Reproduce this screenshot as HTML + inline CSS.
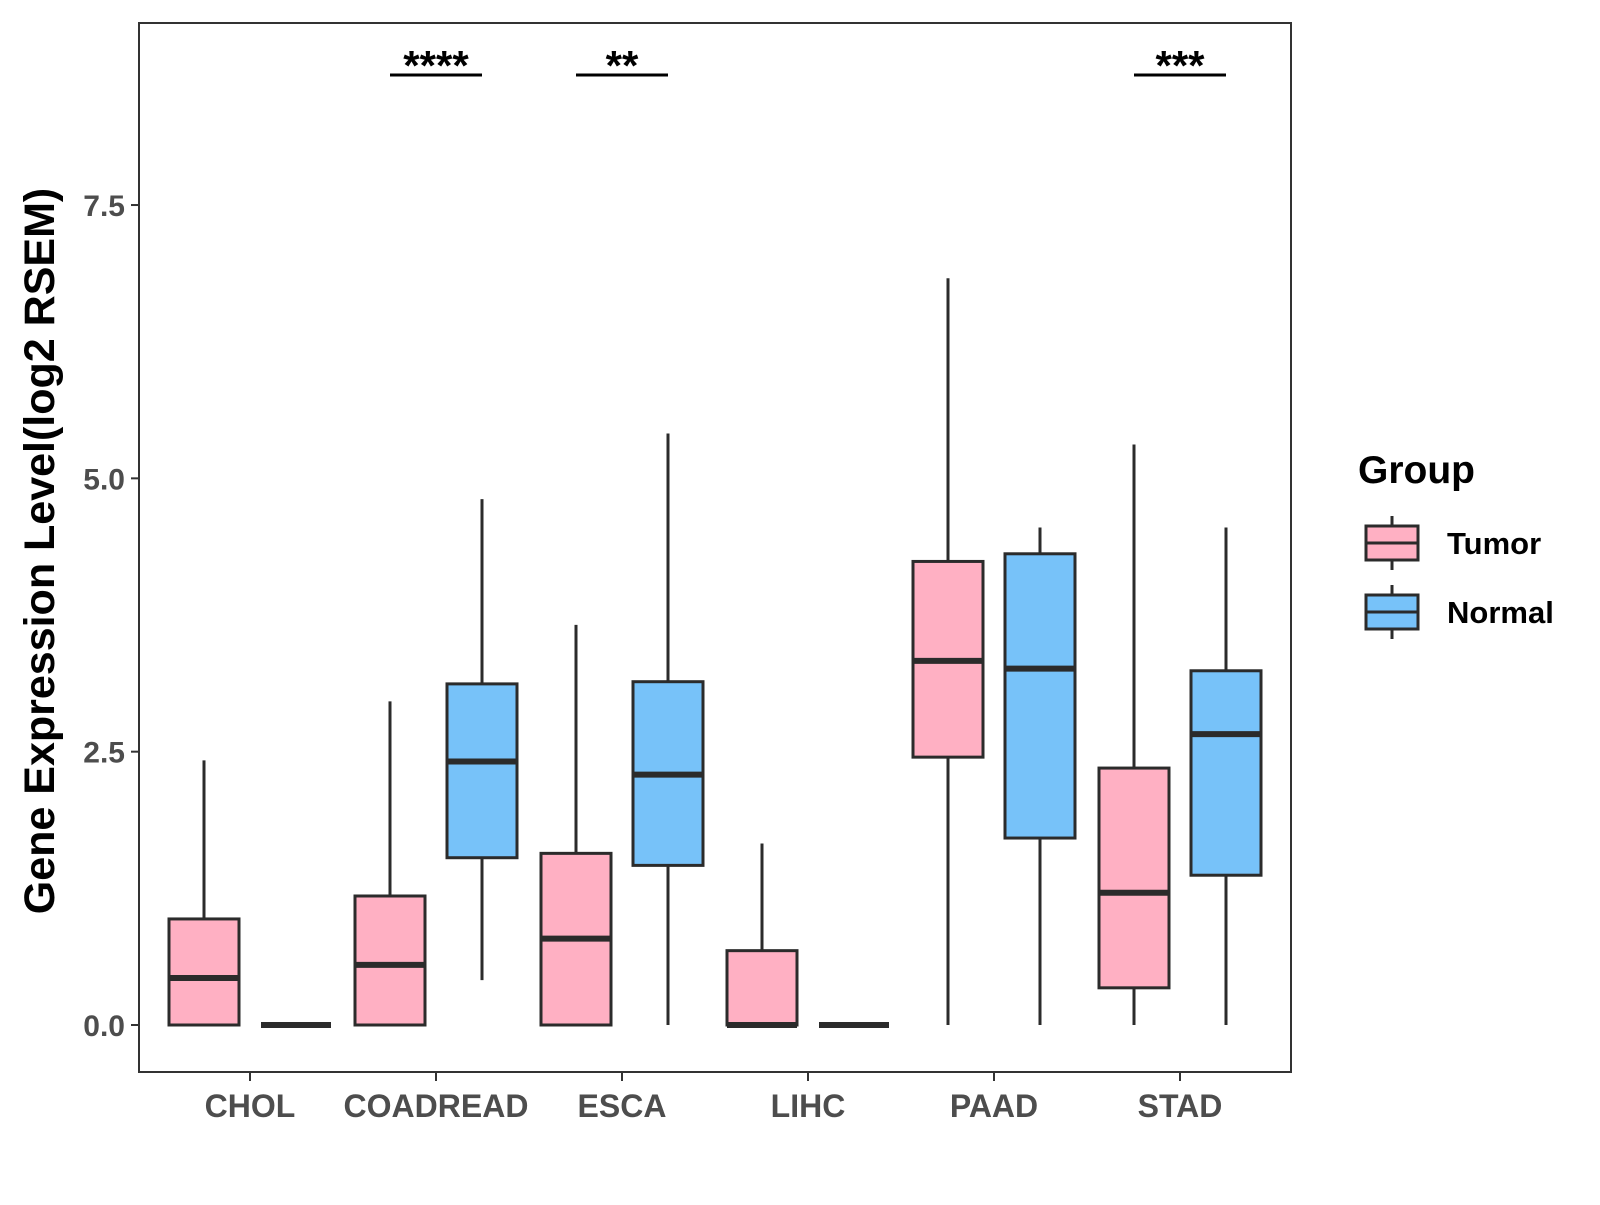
<!DOCTYPE html>
<html><head><meta charset="utf-8"><style>
body{margin:0;background:#fff}
svg text{font-family:"Liberation Sans",Arial,sans-serif;font-weight:bold}
</style></head><body>
<svg id="chart" width="1600" height="1200" viewBox="0 0 1600 1200" xmlns="http://www.w3.org/2000/svg">
<rect x="0" y="0" width="1600" height="1200" fill="#fff"/>
<g id="plot"></g>
</svg>
<script>
const categories=["CHOL","COADREAD","ESCA","LIHC","PAAD","STAD"];
const groups=["Tumor","Normal"];
const tumorStats=[[0,0,0.43,0.97,2.42],[0,0,0.55,1.18,2.96],[0,0,0.79,1.57,3.66],[0,0,0,0.68,1.66],[0,2.45,3.33,4.24,6.83],[0,0.34,1.21,2.35,5.31]];
const normalStats=[[0,0,0,0,0],[0.41,1.53,2.41,3.12,4.81],[0,1.46,2.29,3.14,5.41],[0,0,0,0,0],[0,1.71,3.26,4.31,4.55],[0,1.37,2.66,3.24,4.55]];
const yTicks=[0,2.5,5,7.5];
const yTickLabels=["0.0","2.5","5.0","7.5"];
const sigCats=["COADREAD","ESCA","STAD"];
const sigLabels=["****","**","***"];
const colors=["#FFB0C3","#77C2F9"];

const NS="http://www.w3.org/2000/svg";
const P={l:139,r:1291,t:23,b:1072};
const y=v=>1025-v*109.33;
const x=c=>250+categories.indexOf(c)*186;
const g=document.getElementById('plot');
function el(t,a,txt){const e=document.createElementNS(NS,t);for(const k in a)e.setAttribute(k,a[k]);if(txt!==undefined)e.textContent=txt;g.appendChild(e);return e;}

const panel=el('rect',{x:P.l,y:P.t,width:P.r-P.l,height:P.b-P.t,fill:'none',stroke:'#333','stroke-width':2});



yTicks.forEach((v,i)=>{
  const t=el('line',{x1:P.l-8,x2:P.l,y1:y(v),y2:y(v),stroke:'#333','stroke-width':2});
  
  
  const l=el('text',{x:P.l-14,y:y(v)+11,'text-anchor':'end','font-size':30,fill:'#4d4d4d'},yTickLabels[i]);
  
  
});
categories.forEach(c=>{
  const t=el('line',{x1:x(c),x2:x(c),y1:P.b,y2:P.b+9,stroke:'#333','stroke-width':2});
  
  
  const l=el('text',{x:x(c),y:1117,'text-anchor':'middle','font-size':32,fill:'#4d4d4d'},c);
  
  
});
const yt=el('text',{x:0,y:0,transform:'translate(54,551) rotate(-90)','text-anchor':'middle','font-size':43,fill:'#000'},'Gene Expression Level(log2 RSEM)');



const W=70,off=46;
function box(cx,s,col,name){
  const [lo,q1,med,q3,hi]=s;
  const w=el('line',{x1:cx,x2:cx,y1:y(lo),y2:y(hi),stroke:'#2b2b2b','stroke-width':3});
  
  
  const r=el('rect',{x:cx-W/2,y:y(q3),width:W,height:Math.max(0,y(q1)-y(q3)),fill:col,stroke:'#2b2b2b','stroke-width':3});
  
  
  const m=el('line',{x1:cx-W/2,x2:cx+W/2,y1:y(med),y2:y(med),stroke:'#2b2b2b','stroke-width':6});
  
  
}
categories.forEach((c,i)=>{
  box(x(c)-off,tumorStats[i],colors[0],c.toLowerCase()+'-tumor');
  box(x(c)+off,normalStats[i],colors[1],c.toLowerCase()+'-normal');
});
sigCats.forEach((c,i)=>{
  const l=el('line',{x1:x(c)-off,x2:x(c)+off,y1:75,y2:75,stroke:'#000','stroke-width':3});
  
  
  const t=el('text',{x:x(c),y:80,'text-anchor':'middle','font-size':42,fill:'#000'},sigLabels[i]);
  
  
});
const lt=el('text',{x:1358,y:483,'font-size':39,fill:'#000'},'Group');


groups.forEach((gname,i)=>{
  const cy=543+i*69, cx=1392;
  const w=el('line',{x1:cx,x2:cx,y1:cy-27,y2:cy+27,stroke:'#2b2b2b','stroke-width':3});
  
  
  const r=el('rect',{x:1366,y:cy-17,width:52,height:34,fill:colors[i],stroke:'#2b2b2b','stroke-width':3});
  
  
  const m=el('line',{x1:1366,x2:1418,y1:cy,y2:cy,stroke:'#2b2b2b','stroke-width':3});
  
  
  const t=el('text',{x:1447,y:cy+11,'font-size':31,fill:'#000'},gname);
  
  
});
</script>
</body></html>
